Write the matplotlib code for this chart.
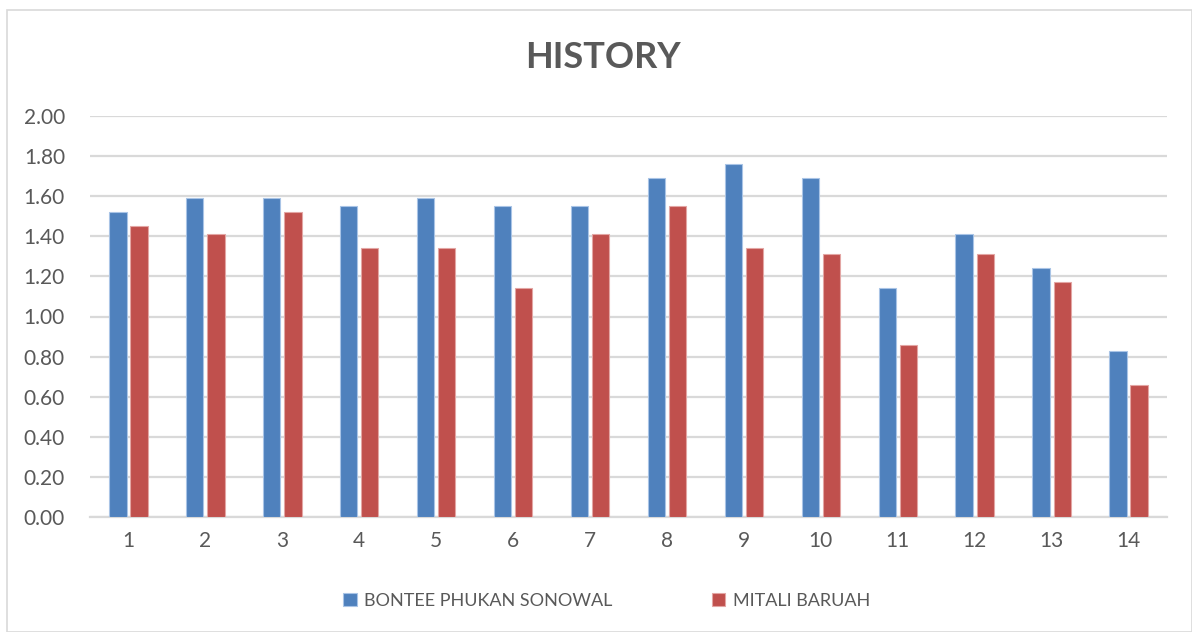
import matplotlib.pyplot as plt
import numpy as np
from matplotlib.patches import Rectangle

plt.rcParams['font.family'] = ['Lato', 'DejaVu Sans']

categories = [str(i) for i in range(1, 15)]
bontee = [1.52, 1.59, 1.59, 1.55, 1.59, 1.55, 1.55, 1.69, 1.76, 1.69, 1.14, 1.41, 1.24, 0.83]
mitali = [1.45, 1.41, 1.52, 1.34, 1.34, 1.14, 1.41, 1.55, 1.34, 1.31, 0.86, 1.31, 1.17, 0.66]
series_names = ["BONTEE PHUKAN SONOWAL", "MITALI BARUAH"]
yticks = [0.0, 0.2, 0.4, 0.6, 0.8, 1.0, 1.2, 1.4, 1.6, 1.8, 2.0]

txt = '#595959'
blue = '#4F81BD'
red = '#C0504D'

fig = plt.figure(figsize=(11.92, 6.32), dpi=100)
# chart border
fig.patches.append(Rectangle((7 / 1192, 0), 1 - 7 / 1192 - 0.5 / 1192, 1 - 10 / 632,
                             transform=fig.transFigure, fill=False,
                             edgecolor='#D9D9D9', linewidth=1.2))

ax = fig.add_axes([90 / 1192, 1 - 517 / 632, (1167 - 90) / 1192, (517 - 116) / 632])

x = np.arange(len(categories))
w = 0.225
gap = 0.05
ax.bar(x - (w + gap) / 2, bontee, w, color=blue, edgecolor='#A9C4E6', linewidth=0.8,
       label=series_names[0], zorder=3)
ax.bar(x + (w + gap) / 2, mitali, w, color=red, edgecolor='#E3A6A4', linewidth=0.8,
       label=series_names[1], zorder=3)

ax.set_xlim(-0.5, len(categories) - 0.5)
ax.set_ylim(0, 2.0)
ax.set_yticks(yticks)
ax.set_yticklabels([f"{v:.2f}" for v in yticks])
ax.set_xticks(x)
ax.set_xticklabels(categories)
ax.yaxis.grid(True, color='#D9D9D9', linewidth=1.6, zorder=0)
ax.set_axisbelow(True)
for s in ['top', 'right', 'left']:
    ax.spines[s].set_visible(False)
ax.spines['bottom'].set_color('#D9D9D9')
ax.spines['bottom'].set_linewidth(1.6)
ax.tick_params(axis='both', length=0, labelsize=15, colors=txt)
ax.tick_params(axis='y', pad=18)
ax.tick_params(axis='x', pad=10)

fig.text(0.506, 1 - 58 / 632, "HISTORY", ha='center', va='center', fontsize=26,
         fontweight='bold', color=txt)

leg = fig.legend(loc='center', bbox_to_anchor=(0.509, 1 - 601 / 632), ncol=2, frameon=False,
                 fontsize=13, handlelength=0.75, handleheight=0.75, columnspacing=5.5,
                 handletextpad=0.4)
for t in leg.get_texts():
    t.set_color(txt)

fig.savefig('out.png', dpi=100)
